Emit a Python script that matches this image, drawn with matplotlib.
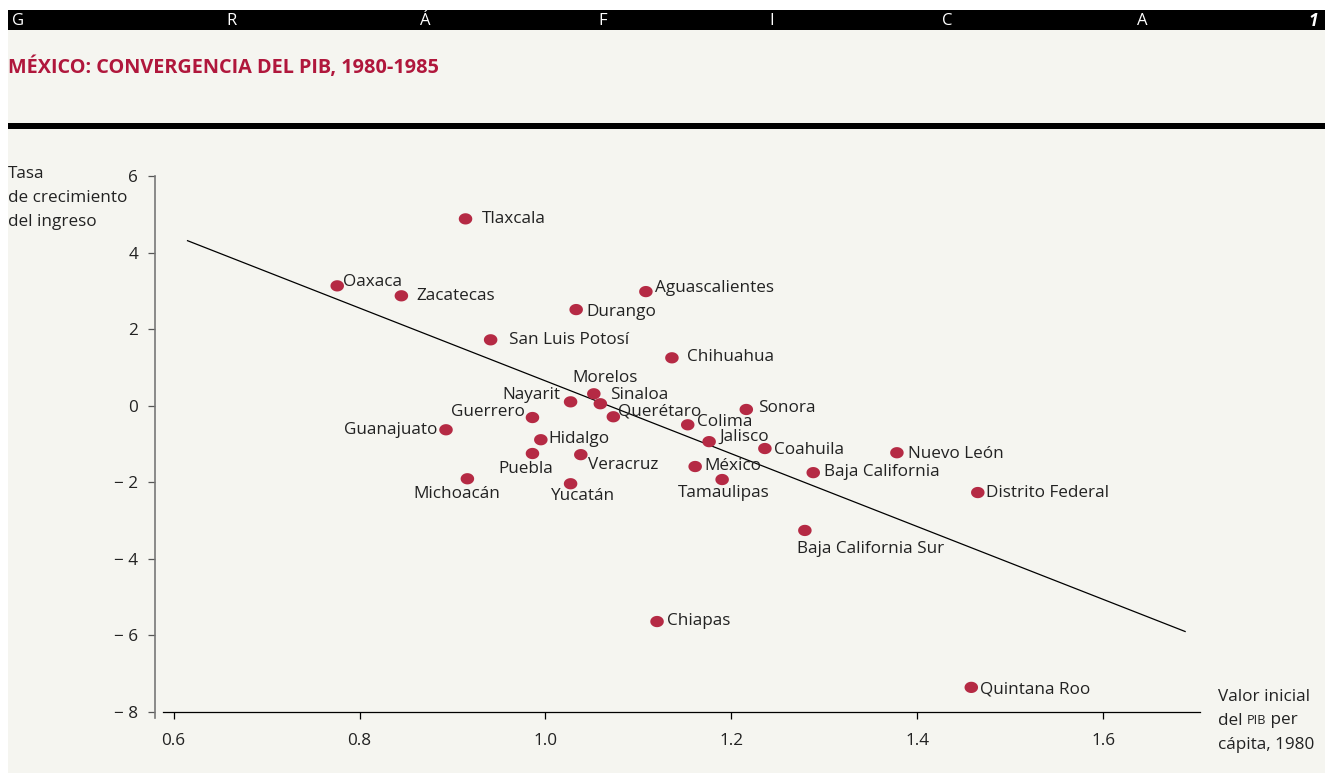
import matplotlib
matplotlib.use("Agg")
import matplotlib.pyplot as plt
import numpy as np
from matplotlib.path import Path
from matplotlib.patches import Rectangle

plt.rcParams['font.family'] = ['Open Sans', 'DejaVu Sans']

# ---- data ----
states = ["Tlaxcala", "Oaxaca", "Zacatecas", "Durango", "Aguascalientes",
          "San Luis Potosí", "Chihuahua", "Morelos", "Nayarit", "Sinaloa",
          "Querétaro", "Guerrero", "Guanajuato", "Hidalgo", "Puebla",
          "Veracruz", "Michoacán", "Yucatán", "Colima", "Sonora", "Jalisco",
          "Coahuila", "México", "Tamaulipas", "Baja California", "Nuevo León",
          "Distrito Federal", "Baja California Sur", "Chiapas", "Quintana Roo"]
pib_1980 = [0.914, 0.776, 0.845, 1.033, 1.108, 0.941, 1.136, 1.052, 1.027,
            1.059, 1.073, 0.986, 0.893, 0.995, 0.986, 1.038, 0.916, 1.027,
            1.153, 1.216, 1.176, 1.236, 1.161, 1.190, 1.288, 1.378, 1.465,
            1.279, 1.120, 1.458]
growth = [4.88, 3.13, 2.87, 2.51, 2.98, 1.72, 1.25, 0.31, 0.10, 0.05,
          -0.29, -0.31, -0.63, -0.89, -1.25, -1.28, -1.91, -2.04, -0.50,
          -0.10, -0.94, -1.12, -1.59, -1.93, -1.75, -1.23, -2.27, -3.26,
          -5.64, -7.36]
trend_x = [0.615, 1.688]
trend_y = [4.31, -5.90]
x_ticks = [0.6, 0.8, 1.0, 1.2, 1.4, 1.6]
y_ticks = [6, 4, 2, 0, -2, -4, -6, -8]
y_title_lines = ["Tasa", "de crecimiento", "del ingreso"]

# label placement (offset in pixels, alignment)
label_pos = {
    "Tlaxcala": (16, 0, 'left'), "Oaxaca": (6, 4, 'left'),
    "Zacatecas": (15, 0, 'left'), "Durango": (10, -2, 'left'),
    "Aguascalientes": (9, 4, 'left'), "San Luis Potosí": (18, 0, 'left'),
    "Chihuahua": (15, 1, 'left'), "Morelos": (11, 16, 'center'),
    "Nayarit": (-10, 7, 'right'), "Sinaloa": (10, 9, 'left'),
    "Querétaro": (5, 5, 'left'), "Guerrero": (-8, 6, 'right'),
    "Guanajuato": (-9, 0, 'right'), "Hidalgo": (8, 1, 'left'),
    "Puebla": (-7, -15, 'center'), "Veracruz": (7, -10, 'left'),
    "Michoacán": (-11, -15, 'center'), "Yucatán": (12, -12, 'center'),
    "Colima": (9, 3, 'left'), "Sonora": (12, 1, 'left'),
    "Jalisco": (10, 5, 'left'), "Coahuila": (9, -1, 'left'),
    "México": (9, 1, 'left'), "Tamaulipas": (2, -13, 'center'),
    "Baja California": (11, 1, 'left'), "Nuevo León": (11, -1, 'left'),
    "Distrito Federal": (8, 0, 'left'), "Baja California Sur": (-8, -19, 'left'),
    "Chiapas": (10, 1, 'left'), "Quintana Roo": (9, -2, 'left'),
}

FS = 12.3
TXT = '#222222'
W, H = 1325, 773
fig = plt.figure(figsize=(W / 100, H / 100), dpi=100, facecolor='white')
bg = '#f5f5f0'
fig.patches.append(Rectangle((8 / W, 0), 1 - 8 / W, 1 - 30 / H, transform=fig.transFigure,
                             facecolor=bg, edgecolor='none', zorder=-10))
# header band
fig.patches.append(Rectangle((8 / W, 1 - 30 / H), 1 - 8 / W, 20 / H, transform=fig.transFigure,
                             facecolor='black', edgecolor='none', zorder=-5))
for ch, px in zip(["G", "R", "Á", "F", "I", "C", "A"], [18, 232, 425, 603, 772, 947, 1142]):
    fig.text(px / W, 1 - 21 / H, ch, color='white', fontsize=12, ha='center', va='center')
fig.text(1313 / W, 1 - 21 / H, "1", color='white', fontsize=12.5, ha='center', va='center',
         fontweight='bold', fontstyle='italic')
fig.text(8 / W, 1 - 67 / H, "MÉXICO: CONVERGENCIA DEL PIB, 1980-1985", color='#b0173c',
         fontsize=14.3, fontweight='bold', ha='left', va='center')
fig.patches.append(Rectangle((8 / W, 1 - 129 / H), 1 - 8 / W, 6 / H, transform=fig.transFigure,
                             facecolor='black', edgecolor='none', zorder=-5))

ax = fig.add_axes([155 / W, 1 - 718 / H, (1200 - 155) / W, (718 - 176) / H])
ax.set_facecolor('none')
ax.set_xlim(0.580, 1.704)
ax.set_ylim(-8.16, 6)

ax.plot(trend_x, trend_y, color='black', lw=0.9, zorder=2)

theta = np.linspace(0, 2 * np.pi, 40)
ell = Path(np.column_stack([1.2 * np.cos(theta), np.sin(theta)]), closed=True)
ax.scatter(pib_1980, growth, s=95, marker=ell, color='#b52a44', edgecolor='none', zorder=3)

for name, x, y in zip(states, pib_1980, growth):
    dx, dy, ha = label_pos[name]
    ax.annotate(name, (x, y), xytext=(dx * 0.72, dy * 0.72), textcoords='offset points',
                ha=ha, va='center', fontsize=FS, color=TXT, zorder=4)

for s in ['top', 'right']:
    ax.spines[s].set_visible(False)
ax.spines['bottom'].set_position(('data', -8))
ax.spines['bottom'].set_bounds(0.5885, 1.704)
ax.spines['bottom'].set_color('black')
ax.spines['bottom'].set_linewidth(0.9)
ax.spines['left'].set_color('#777777')
ax.spines['left'].set_linewidth(1.2)
ax.set_xticks(x_ticks)
ax.set_xticklabels([f"{v:.1f}" for v in x_ticks])
ax.set_yticks(y_ticks)
ax.set_yticklabels([("− " + str(abs(v))) if v < 0 else str(v) for v in y_ticks])
ax.tick_params(axis='x', length=5, width=0.9, pad=10, labelsize=FS, colors='black',
               labelcolor=TXT)
ax.tick_params(axis='y', length=5, width=0.9, pad=7, labelsize=FS, colors='#555555',
               labelcolor=TXT)

for i, line in enumerate(y_title_lines):
    fig.text(8 / W, 1 - (174 + 24 * i) / H, line, fontsize=FS, ha='left', va='center', color=TXT)

fig.text(1218 / W, 1 - 697 / H, "Valor inicial", fontsize=FS, ha='left', va='center', color=TXT)
t2 = fig.text(1218 / W, 1 - 721 / H, "del ", fontsize=FS, ha='left', va='center', color=TXT)
t3 = fig.text(0, 0, "PIB", fontsize=FS * 0.75, ha='left', va='baseline', color=TXT)
t4 = fig.text(0, 0, " per", fontsize=FS, ha='left', va='baseline', color=TXT)

fig.canvas.draw()
r = fig.canvas.get_renderer()
bb2 = t2.get_window_extent(r)
inv = fig.transFigure.inverted()
base_px = bb2.y0 + FS * 100 / 72 * 0.27
t3.set_position(inv.transform((bb2.x1, base_px)))
bb3 = t3.get_window_extent(r)
t4.set_position(inv.transform((bb3.x1, base_px)))

fig.text(1218 / W, 1 - 745 / H, "cápita, 1980", fontsize=FS, ha='left', va='center', color=TXT)

fig.savefig("out.png", dpi=100, facecolor=fig.get_facecolor())
